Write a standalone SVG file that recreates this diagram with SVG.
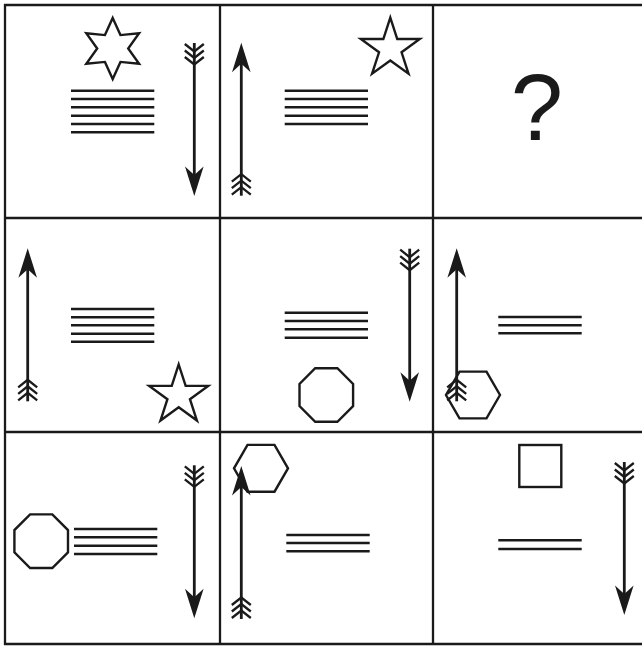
<svg xmlns="http://www.w3.org/2000/svg" xmlns:xlink="http://www.w3.org/1999/xlink" width="642" height="646" viewBox="0 0 642 646">
<style>
.grid{stroke:#1a1a1a;stroke-width:2.3;fill:none}
.ln{stroke:#1a1a1a;stroke-width:2.5}
.shape{stroke:#1a1a1a;stroke-width:2.4;fill:none;stroke-linejoin:miter}
.shaft{stroke:#1a1a1a;stroke-width:2.8}
.fl{stroke:#1a1a1a;stroke-width:2.3;fill:none}
.q{font-family:"Liberation Sans",Arial,sans-serif;font-size:94px;fill:#1a1a1a}
</style>
<defs>
<g id="arrowUp">
<line class="shaft" x1="0" y1="20" x2="0" y2="153"/>
<polygon points="0,0 9.3,29.5 0,21 -9.3,29.5" fill="#1a1a1a"/>
<polyline class="fl" points="-9.5,139 0,131.5 9.5,139"/>
<polyline class="fl" points="-9.5,145.5 0,138 9.5,145.5"/>
<polyline class="fl" points="-9.5,152 0,144.5 9.5,152"/>
</g>
<polygon id="star5" class="shape" points="0,-31 6.96,-9.58 29.48,-9.58 11.26,3.66 18.22,25.08 0,11.84 -18.22,25.08 -11.26,3.66 -29.48,-9.58 -6.96,-9.58"/>
<polygon id="star6" class="shape" points="0,-30.5 7.75,-13.42 26.41,-15.25 15.5,0 26.41,15.25 7.75,13.42 0,30.5 -7.75,13.42 -26.41,15.25 -15.5,0 -26.41,-15.25 -7.75,-13.42"/>
<polygon id="oct" class="shape" points="26.79,11.1 11.1,26.79 -11.1,26.79 -26.79,11.1 -26.79,-11.1 -11.1,-26.79 11.1,-26.79 26.79,-11.1"/>
<polygon id="hex" class="shape" points="27,0 13.5,23.38 -13.5,23.38 -27,0 -13.5,-23.38 13.5,-23.38"/>
</defs>
<rect width="642" height="646" fill="#ffffff"/>
<g id="grid">
<line class="grid" x1="4" y1="5" x2="642" y2="5"/>
<line class="grid" x1="4" y1="218" x2="642" y2="218"/>
<line class="grid" x1="4" y1="432" x2="642" y2="432"/>
<line class="grid" x1="4" y1="644" x2="642" y2="644"/>
<line class="grid" x1="5" y1="4" x2="5" y2="645"/>
<line class="grid" x1="220" y1="4" x2="220" y2="645"/>
<line class="grid" x1="433" y1="4" x2="433" y2="645"/>
</g>
<g id="cell-1-1">
<use xlink:href="#star6" href="#star6" transform="translate(112.7,48.5)"/>
<line class="ln" x1="71" y1="90.7" x2="154.3" y2="90.7"/>
<line class="ln" x1="71" y1="99" x2="154.3" y2="99"/>
<line class="ln" x1="71" y1="107.3" x2="154.3" y2="107.3"/>
<line class="ln" x1="71" y1="115.7" x2="154.3" y2="115.7"/>
<line class="ln" x1="71" y1="124" x2="154.3" y2="124"/>
<line class="ln" x1="71" y1="132.3" x2="154.3" y2="132.3"/>
<use xlink:href="#arrowUp" href="#arrowUp" transform="translate(194.3,196) rotate(180)"/>
</g>
<g id="cell-1-2">
<use xlink:href="#arrowUp" href="#arrowUp" transform="translate(241.3,42.7)"/>
<line class="ln" x1="284.7" y1="90.7" x2="368" y2="90.7"/>
<line class="ln" x1="284.7" y1="99" x2="368" y2="99"/>
<line class="ln" x1="284.7" y1="107.3" x2="368" y2="107.3"/>
<line class="ln" x1="284.7" y1="115.7" x2="368" y2="115.7"/>
<line class="ln" x1="284.7" y1="124" x2="368" y2="124"/>
<use xlink:href="#star5" href="#star5" transform="translate(390.3,48.6)"/>
</g>
<g id="cell-1-3">
<text class="q" x="537" y="140" text-anchor="middle">?</text>
</g>
<g id="cell-2-1">
<use xlink:href="#arrowUp" href="#arrowUp" transform="translate(27.7,248.3)"/>
<line class="ln" x1="71" y1="309" x2="154.3" y2="309"/>
<line class="ln" x1="71" y1="317.3" x2="154.3" y2="317.3"/>
<line class="ln" x1="71" y1="325.3" x2="154.3" y2="325.3"/>
<line class="ln" x1="71" y1="333.7" x2="154.3" y2="333.7"/>
<line class="ln" x1="71" y1="341.7" x2="154.3" y2="341.7"/>
<use xlink:href="#star5" href="#star5" transform="translate(178.7,395.5)"/>
</g>
<g id="cell-2-2">
<line class="ln" x1="284.7" y1="312.7" x2="368" y2="312.7"/>
<line class="ln" x1="284.7" y1="321" x2="368" y2="321"/>
<line class="ln" x1="284.7" y1="329.3" x2="368" y2="329.3"/>
<line class="ln" x1="284.7" y1="337.7" x2="368" y2="337.7"/>
<use xlink:href="#oct" href="#oct" transform="translate(326.3,395)"/>
<use xlink:href="#arrowUp" href="#arrowUp" transform="translate(409.7,401.7) rotate(180)"/>
</g>
<g id="cell-2-3">
<use xlink:href="#arrowUp" href="#arrowUp" transform="translate(456.7,248.3)"/>
<use xlink:href="#hex" href="#hex" transform="translate(473,395)"/>
<line class="ln" x1="498.3" y1="317" x2="581.7" y2="317"/>
<line class="ln" x1="498.3" y1="325.3" x2="581.7" y2="325.3"/>
<line class="ln" x1="498.3" y1="333.3" x2="581.7" y2="333.3"/>
</g>
<g id="cell-3-1">
<use xlink:href="#oct" href="#oct" transform="translate(41.2,541.2)"/>
<line class="ln" x1="74" y1="529" x2="157.3" y2="529"/>
<line class="ln" x1="74" y1="537.3" x2="157.3" y2="537.3"/>
<line class="ln" x1="74" y1="545.7" x2="157.3" y2="545.7"/>
<line class="ln" x1="74" y1="554" x2="157.3" y2="554"/>
<use xlink:href="#arrowUp" href="#arrowUp" transform="translate(194.3,618.3) rotate(180)"/>
</g>
<g id="cell-3-2">
<use xlink:href="#hex" href="#hex" transform="translate(261,468.3)"/>
<use xlink:href="#arrowUp" href="#arrowUp" transform="translate(241.3,466)"/>
<line class="ln" x1="286.3" y1="535" x2="369.7" y2="535"/>
<line class="ln" x1="286.3" y1="543" x2="369.7" y2="543"/>
<line class="ln" x1="286.3" y1="551.3" x2="369.7" y2="551.3"/>
</g>
<g id="cell-3-3">
<rect class="shape" x="519.3" y="445" width="42" height="42"/>
<line class="ln" x1="498.3" y1="540.3" x2="581.7" y2="540.3"/>
<line class="ln" x1="498.3" y1="549" x2="581.7" y2="549"/>
<use xlink:href="#arrowUp" href="#arrowUp" transform="translate(624.3,615) rotate(180)"/>
</g>
</svg>
